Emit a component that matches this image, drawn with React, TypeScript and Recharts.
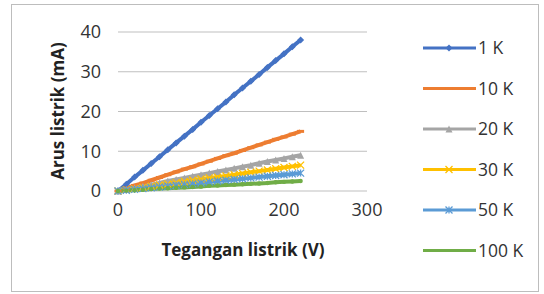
import { LineChart, Line, XAxis, YAxis, CartesianGrid, Label } from 'recharts'

// voltage steps (V)
const voltage = [0, 10, 20, 30, 40, 50, 60, 70, 80, 90, 100, 110, 120, 130, 140, 150, 160, 170, 180, 190, 200, 210, 220]

// current (mA) for each resistor
const r1k = [0, 1.7, 3.5, 5.2, 6.9, 8.6, 10.4, 12.1, 13.8, 15.5, 17.3, 19.0, 20.7, 22.4, 24.2, 25.9, 27.6, 29.3, 31.1, 32.8, 34.5, 36.3, 38.0]
const r10k = [0, 0.7, 1.4, 2.0, 2.7, 3.4, 4.1, 4.8, 5.5, 6.1, 6.8, 7.5, 8.2, 8.9, 9.5, 10.2, 10.9, 11.6, 12.3, 13.0, 13.6, 14.3, 15.0]
const r20k = [0, 0.4, 0.8, 1.2, 1.6, 2.0, 2.5, 2.9, 3.3, 3.7, 4.1, 4.5, 4.9, 5.3, 5.7, 6.1, 6.5, 7.0, 7.4, 7.8, 8.2, 8.6, 9.0]
const r30k = [0, 0.3, 0.6, 0.9, 1.2, 1.5, 1.8, 2.1, 2.4, 2.7, 3.0, 3.3, 3.5, 3.8, 4.1, 4.4, 4.7, 5.0, 5.3, 5.6, 5.9, 6.2, 6.5]
const r50k = [0, 0.2, 0.4, 0.6, 0.8, 1.0, 1.2, 1.4, 1.6, 1.8, 2.0, 2.3, 2.5, 2.7, 2.9, 3.1, 3.3, 3.5, 3.7, 3.9, 4.1, 4.3, 4.5]
const r100k = [0, 0.1, 0.2, 0.3, 0.5, 0.6, 0.7, 0.8, 0.9, 1.0, 1.1, 1.3, 1.4, 1.5, 1.6, 1.7, 1.8, 1.9, 2.0, 2.2, 2.3, 2.4, 2.5]

const xTicks = [0, 100, 200, 300]
const yTicks = [0, 10, 20, 30, 40]

const series = [
  { key: 'r1k', name: '1 K', color: '#4472C4', marker: 'diamond' },
  { key: 'r10k', name: '10 K', color: '#ED7D31', marker: 'dash' },
  { key: 'r20k', name: '20 K', color: '#A5A5A5', marker: 'triangle' },
  { key: 'r30k', name: '30 K', color: '#FFC000', marker: 'cross' },
  { key: 'r50k', name: '50 K', color: '#5B9BD5', marker: 'star' },
  { key: 'r100k', name: '100 K', color: '#70AD47', marker: 'circle' },
]

const data = voltage.map((v, i) => ({
  v,
  r1k: r1k[i],
  r10k: r10k[i],
  r20k: r20k[i],
  r30k: r30k[i],
  r50k: r50k[i],
  r100k: r100k[i],
}))

const font = '"Open Sans", "Liberation Sans", sans-serif'

function markerShape(type: string, cx: number, cy: number, color: string, key?: string) {
  const s = 3.5
  switch (type) {
    case 'diamond':
      return <path key={key} d={`M${cx},${cy - s} L${cx + s},${cy} L${cx},${cy + s} L${cx - s},${cy} Z`} fill={color} />
    case 'dash':
      return <rect key={key} x={cx - s} y={cy - 1.5} width={2 * s} height={3} fill={color} />
    case 'triangle':
      return <path key={key} d={`M${cx},${cy - s} L${cx + s},${cy + s} L${cx - s},${cy + s} Z`} fill={color} />
    case 'cross':
      return <path key={key} d={`M${cx - s},${cy - s} L${cx + s},${cy + s} M${cx + s},${cy - s} L${cx - s},${cy + s}`} stroke={color} strokeWidth={1.3} />
    case 'star':
      return <path key={key} d={`M${cx - s},${cy - s} L${cx + s},${cy + s} M${cx + s},${cy - s} L${cx - s},${cy + s} M${cx},${cy - s} L${cx},${cy + s}`} stroke={color} strokeWidth={1.3} />
    default:
      return <circle key={key} cx={cx} cy={cy} r={2.2} fill={color} />
  }
}

function makeDot(type: string, color: string) {
  return (p: any) => markerShape(type, p.cx, p.cy, color, `${type}-${p.index}`)
}

function Legend() {
  return (
    <svg width={130} height={260} style={{ position: 'absolute', left: 415, top: 20 }}>
      {series.map((s, i) => {
        const y = 28 + i * 40.5
        return (
          <g key={s.key}>
            <line x1={8} x2={61} y1={y} y2={y} stroke={s.color} strokeWidth={3} />
            {s.marker !== 'circle' && markerShape(s.marker, 34, y, s.color)}
            <text x={63} y={y} dy="0.35em" fontSize={17.5} fontFamily={font} fill="#333">{s.name}</text>
          </g>
        )
      })}
    </svg>
  )
}

export default function App() {
  return (
    <div style={{ position: 'absolute', left: 0, top: 0, width: 544, height: 294, background: '#fff' }}>
      <div style={{ position: 'absolute', left: 11, top: 4, width: 528, height: 288, border: '1px solid #bdbdbd', boxSizing: 'border-box' }} />
      <div style={{ position: 'absolute', left: 0, top: 0 }}>
        <LineChart width={544} height={294} data={data} margin={{ top: 32, right: 177, left: 0, bottom: 0 }}>
          <CartesianGrid vertical={false} stroke="#bfbfbf" strokeWidth={1} />
          <XAxis
            dataKey="v"
            type="number"
            domain={[0, 300]}
            ticks={xTicks}
            axisLine={false}
            tickLine={false}
            tickSize={0}
            tickMargin={12}
            height={103}
            tick={{ fontSize: 18, fill: '#333', fontFamily: font }}
          >
            <Label
              content={() => (
                <text x={243} y={250} dy="0.35em" textAnchor="middle" fontSize={17} fontWeight="bold" fontFamily={font} fill="#222">
                  Tegangan listrik (V)
                </text>
              )}
            />
          </XAxis>
          <YAxis
            type="number"
            domain={[0, 40]}
            ticks={yTicks}
            axisLine={false}
            tickLine={false}
            tickSize={0}
            tickMargin={17}
            width={118}
            tick={{ fontSize: 18, fill: '#333', fontFamily: font }}
          >
            <Label
              content={() => (
                <text x={58} y={111} dy="0.35em" textAnchor="middle" fontSize={17} fontWeight="bold" fontFamily={font} fill="#222" transform="rotate(-90 58 111)">
                  Arus listrik (mA)
                </text>
              )}
            />
          </YAxis>
          {series.map((s) => (
            <Line
              key={s.key}
              type="linear"
              dataKey={s.key}
              name={s.name}
              stroke={s.color}
              strokeWidth={4}
              dot={makeDot(s.marker, s.color)}
              isAnimationActive={false}
            />
          ))}
        </LineChart>
      </div>
      <Legend />
    </div>
  )
}
